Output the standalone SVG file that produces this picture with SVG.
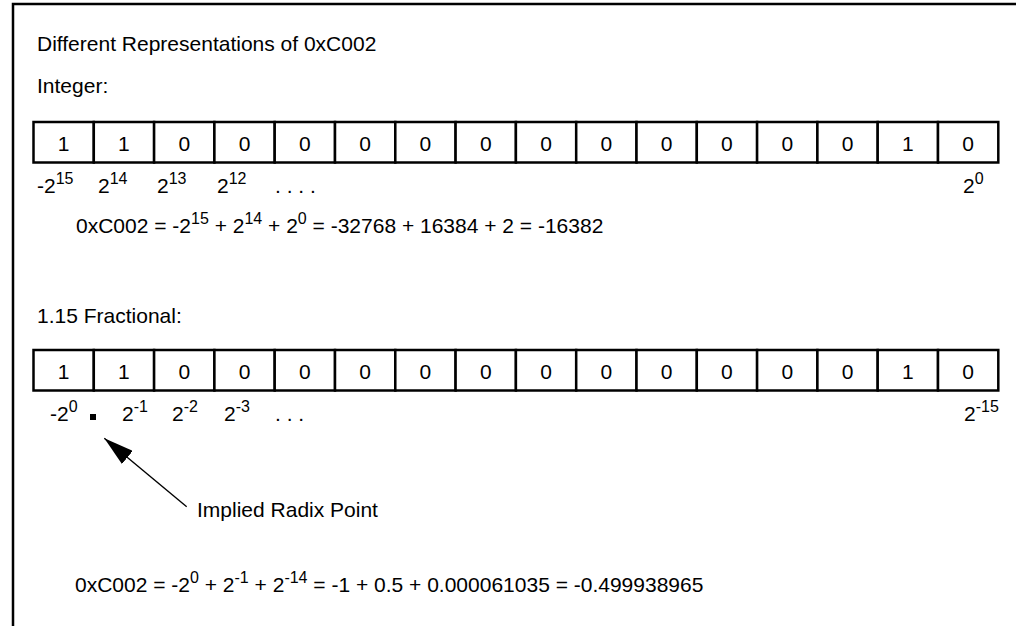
<svg xmlns="http://www.w3.org/2000/svg" width="1016" height="626" viewBox="0 0 1016 626">
<style>
  text { font-family: "Liberation Sans", Arial, sans-serif; font-size: 21px; fill: #000; }
  .sup { font-size: 16px; }
  .cell rect { fill: #fff; stroke: #000; stroke-width: 2.5; }
  .cell text { text-anchor: middle; }
  .frame { fill: none; stroke: #000; stroke-width: 2.5; }
  .conn { stroke: #000; stroke-width: 1.4; fill: none; }
</style>
<defs>
  <marker id="ah" markerUnits="userSpaceOnUse" markerWidth="30" markerHeight="17" refX="30" refY="8.5" orient="auto">
    <path d="M0,0 L30,8.5 L0,17 z" fill="#000"/>
  </marker>
</defs>
<rect x="0" y="0" width="1016" height="626" fill="#fff"/>
<path class="frame" d="M13,626 L13,4 L1016,4"/>

<g id="title"><text x="37" y="51">Different Representations of 0xC002</text></g>
<g id="integer-label"><text x="37" y="93">Integer:</text></g>

<g id="integer-row">
  <g id="int-b15" class="cell"><rect x="33.5" y="122" width="60.3" height="40.5"/><text x="63.65" y="151">1</text></g>
  <g id="int-b14" class="cell"><rect x="93.8" y="122" width="60.3" height="40.5"/><text x="123.95" y="151">1</text></g>
  <g id="int-b13" class="cell"><rect x="154.1" y="122" width="60.3" height="40.5"/><text x="184.25" y="151">0</text></g>
  <g id="int-b12" class="cell"><rect x="214.4" y="122" width="60.3" height="40.5"/><text x="244.55" y="151">0</text></g>
  <g id="int-b11" class="cell"><rect x="274.7" y="122" width="60.3" height="40.5"/><text x="304.85" y="151">0</text></g>
  <g id="int-b10" class="cell"><rect x="335" y="122" width="60.3" height="40.5"/><text x="365.15" y="151">0</text></g>
  <g id="int-b9" class="cell"><rect x="395.3" y="122" width="60.3" height="40.5"/><text x="425.45" y="151">0</text></g>
  <g id="int-b8" class="cell"><rect x="455.6" y="122" width="60.3" height="40.5"/><text x="485.75" y="151">0</text></g>
  <g id="int-b7" class="cell"><rect x="515.9" y="122" width="60.3" height="40.5"/><text x="546.05" y="151">0</text></g>
  <g id="int-b6" class="cell"><rect x="576.2" y="122" width="60.3" height="40.5"/><text x="606.35" y="151">0</text></g>
  <g id="int-b5" class="cell"><rect x="636.5" y="122" width="60.3" height="40.5"/><text x="666.65" y="151">0</text></g>
  <g id="int-b4" class="cell"><rect x="696.8" y="122" width="60.3" height="40.5"/><text x="726.95" y="151">0</text></g>
  <g id="int-b3" class="cell"><rect x="757.1" y="122" width="60.3" height="40.5"/><text x="787.25" y="151">0</text></g>
  <g id="int-b2" class="cell"><rect x="817.4" y="122" width="60.3" height="40.5"/><text x="847.55" y="151">0</text></g>
  <g id="int-b1" class="cell"><rect x="877.7" y="122" width="60.3" height="40.5"/><text x="907.85" y="151">1</text></g>
  <g id="int-b0" class="cell"><rect x="938" y="122" width="60.3" height="40.5"/><text x="968.15" y="151">0</text></g>
</g>

<g id="integer-weights">
  <text x="37" y="193">-2<tspan class="sup" dy="-9">15</tspan></text>
  <text x="98" y="193">2<tspan class="sup" dy="-9">14</tspan></text>
  <text x="157" y="193">2<tspan class="sup" dy="-9">13</tspan></text>
  <text x="217" y="193">2<tspan class="sup" dy="-9">12</tspan></text>
  <text x="275" y="193">. . . .</text>
  <text x="963" y="193">2<tspan class="sup" dy="-9">0</tspan></text>
</g>

<g id="integer-equation">
  <text x="76" y="233">0xC002 = -2<tspan class="sup" dy="-9">15</tspan><tspan dy="9"> + 2</tspan><tspan class="sup" dy="-9">14</tspan><tspan dy="9"> + 2</tspan><tspan class="sup" dy="-9">0</tspan><tspan dy="9"> = -32768 + 16384 + 2 = -16382</tspan></text>
</g>

<g id="fractional-label"><text x="37" y="323">1.15 Fractional:</text></g>

<g id="fractional-row">
  <g id="frac-b15" class="cell"><rect x="33.5" y="350" width="60.3" height="40.5"/><text x="63.65" y="379">1</text></g>
  <g id="frac-b14" class="cell"><rect x="93.8" y="350" width="60.3" height="40.5"/><text x="123.95" y="379">1</text></g>
  <g id="frac-b13" class="cell"><rect x="154.1" y="350" width="60.3" height="40.5"/><text x="184.25" y="379">0</text></g>
  <g id="frac-b12" class="cell"><rect x="214.4" y="350" width="60.3" height="40.5"/><text x="244.55" y="379">0</text></g>
  <g id="frac-b11" class="cell"><rect x="274.7" y="350" width="60.3" height="40.5"/><text x="304.85" y="379">0</text></g>
  <g id="frac-b10" class="cell"><rect x="335" y="350" width="60.3" height="40.5"/><text x="365.15" y="379">0</text></g>
  <g id="frac-b9" class="cell"><rect x="395.3" y="350" width="60.3" height="40.5"/><text x="425.45" y="379">0</text></g>
  <g id="frac-b8" class="cell"><rect x="455.6" y="350" width="60.3" height="40.5"/><text x="485.75" y="379">0</text></g>
  <g id="frac-b7" class="cell"><rect x="515.9" y="350" width="60.3" height="40.5"/><text x="546.05" y="379">0</text></g>
  <g id="frac-b6" class="cell"><rect x="576.2" y="350" width="60.3" height="40.5"/><text x="606.35" y="379">0</text></g>
  <g id="frac-b5" class="cell"><rect x="636.5" y="350" width="60.3" height="40.5"/><text x="666.65" y="379">0</text></g>
  <g id="frac-b4" class="cell"><rect x="696.8" y="350" width="60.3" height="40.5"/><text x="726.95" y="379">0</text></g>
  <g id="frac-b3" class="cell"><rect x="757.1" y="350" width="60.3" height="40.5"/><text x="787.25" y="379">0</text></g>
  <g id="frac-b2" class="cell"><rect x="817.4" y="350" width="60.3" height="40.5"/><text x="847.55" y="379">0</text></g>
  <g id="frac-b1" class="cell"><rect x="877.7" y="350" width="60.3" height="40.5"/><text x="907.85" y="379">1</text></g>
  <g id="frac-b0" class="cell"><rect x="938" y="350" width="60.3" height="40.5"/><text x="968.15" y="379">0</text></g>
</g>

<g id="fractional-weights">
  <text x="50" y="421">-2<tspan class="sup" dy="-9">0</tspan></text>
  <rect id="radix-point" x="90" y="414" width="6" height="6" fill="#000"/>
  <text x="122" y="421">2<tspan class="sup" dy="-9">-1</tspan></text>
  <text x="172" y="421">2<tspan class="sup" dy="-9">-2</tspan></text>
  <text x="224" y="421">2<tspan class="sup" dy="-9">-3</tspan></text>
  <text x="275" y="421">. . .</text>
  <text x="964" y="421">2<tspan class="sup" dy="-9">-15</tspan></text>
</g>

<g id="connectors">
  <line class="conn" x1="186.7" y1="506.7" x2="104.3" y2="438.3" marker-end="url(#ah)"/>
</g>

<g id="radix-label"><text x="197" y="517">Implied Radix Point</text></g>

<g id="fractional-equation">
  <text x="75" y="592">0xC002 = -2<tspan class="sup" dy="-9">0</tspan><tspan dy="9"> + 2</tspan><tspan class="sup" dy="-9">-1</tspan><tspan dy="9"> + 2</tspan><tspan class="sup" dy="-9">-14</tspan><tspan dy="9"> = -1 + 0.5 + 0.000061035 = -0.499938965</tspan></text>
</g>
</svg>
